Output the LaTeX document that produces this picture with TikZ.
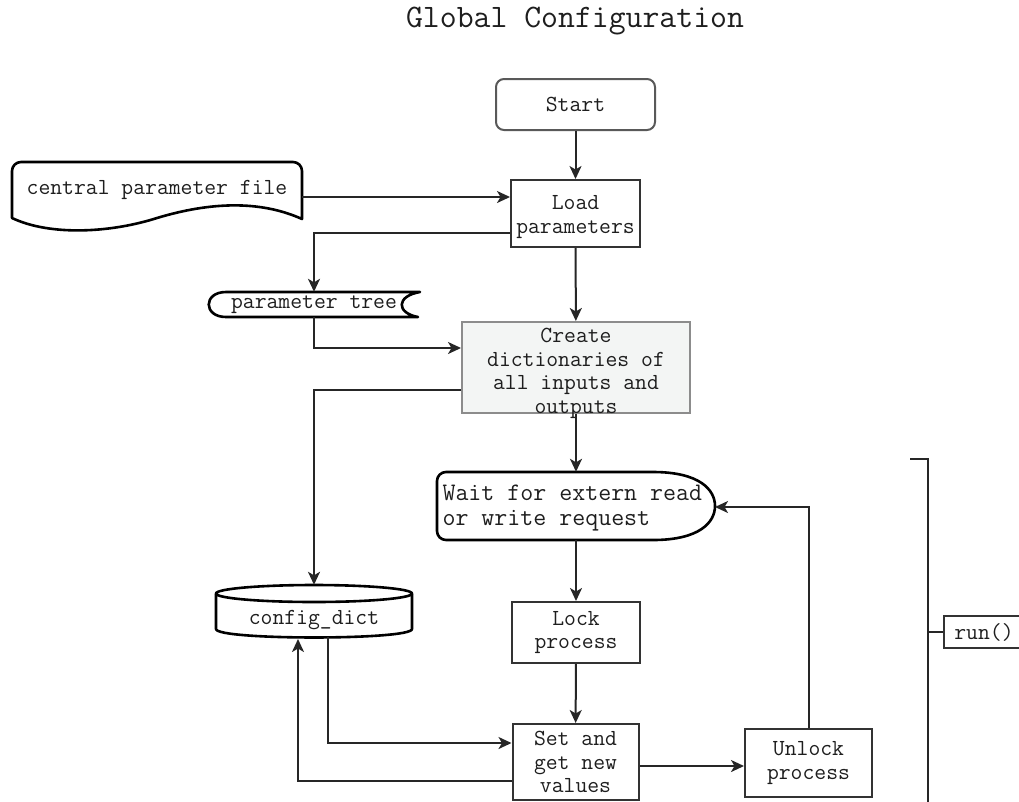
\documentclass[tikz,border=0pt]{standalone}
\usepackage{fontspec}
\usetikzlibrary{arrows.meta}
\definecolor{ink}{HTML}{1E1E1E}
\definecolor{line}{HTML}{262626}
\definecolor{panel}{HTML}{F3F5F4}
\definecolor{panelborder}{HTML}{8C8C8C}
\begin{document}
\begin{tikzpicture}[x=1pt,y=-1pt,
  font=\ttfamily\fontsize{23}{23.5}\selectfont, text=ink,
  conn/.style={draw=line, line width=2pt, -{Stealth[length=13pt,width=12pt,inset=3.5pt]}},
  wire/.style={draw=line, line width=2pt},
  box/.style={draw=black!80, line width=2pt, inner sep=0pt, align=center},
  shapebox/.style={inner sep=0pt, align=center},
  outline/.style={draw=black, line width=2.6pt, line join=round}
]
\useasboundingbox (0,0) rectangle (1019,801);

% title
\node[font=\ttfamily\fontsize{32.8}{34}\selectfont] (title) at (575,21) {Global Configuration};

% process boxes
\node[box, draw=black!65, rounded corners=8pt, minimum width=159pt, minimum height=51pt] (start) at (575.5,104.5) {Start};
\node[box, minimum width=129pt, minimum height=67pt] (load) at (575.5,213.5) {};
\node[align=center] (loadtext) at (575.5,217) {Load\\parameters};
\node[box, fill=panel, draw=panelborder, minimum width=228pt, minimum height=91pt] (create) at (576,367.5) {};
\node[align=center] (createtext) at (576,373.5) {Create\\dictionaries of\\all inputs and\\outputs};
\node[box, minimum width=128pt, minimum height=61pt] (lock) at (576,632.5) {Lock\\process};
\node[box, minimum width=126pt, minimum height=76pt] (set) at (575.5,762) {Set and\\get new\\values};
\node[box, minimum width=127pt, minimum height=68pt] (unlock) at (808.5,763) {Unlock\\process};

% document: central parameter file
\node[shapebox, minimum width=290pt, minimum height=56pt] (cpf) at (157,190) {central parameter file};
\draw[outline] (302,219) .. controls (260,200) and (210,202) .. (157,218)
  .. controls (110,233) and (50,236) .. (12,218)
  [rounded corners=9pt] -- (12,162) -- (302,162) [sharp corners] -- cycle;

% stored data: parameter tree
\node[shapebox, minimum width=212pt, minimum height=25pt] (ptree) at (314,304.5) {parameter tree};
\draw[outline] (226,292) -- (420,292) .. controls (396,296) and (396,313) .. (418,317)
  -- (226,317) .. controls (203,317) and (203,292) .. (226,292) -- cycle;

% display: wait for request
\node[shapebox, minimum width=278pt, minimum height=68pt] (wait) at (576,506) {};
\draw[outline] (653,472) .. controls (700,472) and (715,490) .. (715,506)
  .. controls (715,522) and (700,540) .. (653,540)
  [rounded corners=9pt] -- (437,540) -- (437,472) [sharp corners] -- (653,472);
\node[anchor=west, align=left, font=\ttfamily\fontsize{25.2}{25.5}\selectfont] (waittext) at (439,508) {Wait for extern read\\or write request};

% database: config_dict
\node[shapebox, minimum width=196pt, minimum height=53pt] (cfg) at (314,611.5) {};
\draw[outline] (216,593.5) -- (216,629) .. controls (216,640.3) and (412,640.3) .. (412,629) -- (412,593.5);
\draw[outline] (314,593.5) ellipse [x radius=98pt, y radius=8.5pt];
\node (cfgtext) at (314,620) {config\_dict};

% run() bracket
\node[box, draw=black!80, line width=1.6pt, minimum width=80pt, minimum height=32pt] (run) at (984,632) {run()};
\coordinate (brtop) at (910,459);
\coordinate (brmid) at (928,632);
\draw[wire] (brtop) -- (928,459) -- (928,806);
\draw[wire] (brmid) -- (run.west);

% connectors
\draw[conn] (start) -- (load);
\coordinate (cpfout) at (302,197);
\draw[conn] (cpfout) -- (cpfout -| load.west);
\coordinate (loadout) at ([yshift=15pt]load.south west);
\draw[conn] (loadout) -| (ptree.north);
\draw[conn] (load) -- (create);
\coordinate (createin) at ([yshift=19.5pt]create.west);
\draw[conn] (ptree.south) |- (createin);
\coordinate (createout) at ([yshift=-22.5pt]create.west);
\draw[conn] (createout) -| (cfg.north);
\draw[conn] (create) -- (wait);
\draw[conn] (wait) -- (lock);
\draw[conn] (lock) -- (set);
\coordinate (cfgout) at (328,637);
\coordinate (setin) at ([yshift=19pt]set.west);
\draw[conn] (cfgout) |- (setin);
\coordinate (setout) at ([yshift=-19pt]set.west);
\coordinate (cfgin) at (298,639);
\draw[conn] (setout) -| (cfgin);
\coordinate (setright) at ([yshift=-4pt]set.east);
\draw[conn] (setright) -- (setright -| unlock.west);
\coordinate (waitin) at (715,507);
\draw[conn] (unlock.north) |- (waitin);
\end{tikzpicture}
\end{document}
